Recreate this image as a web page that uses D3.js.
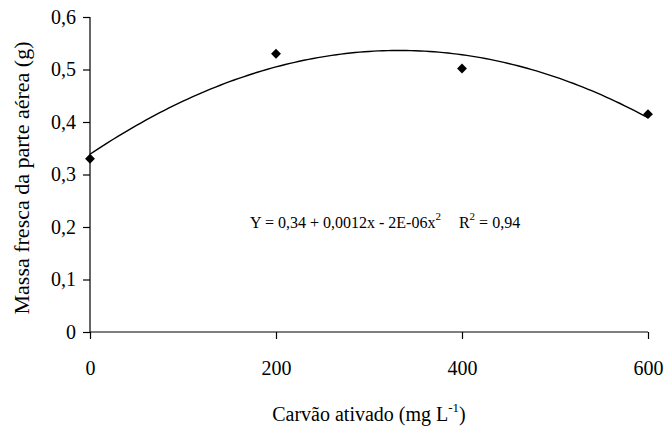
<!DOCTYPE html>
<html>
<head>
<meta charset="utf-8">
<script src="https://cdn.jsdelivr.net/npm/d3@7"></script>
<style>
  html, body { margin: 0; padding: 0; background: #fff; }
  svg { display: block; }
  svg text { font-family: "Liberation Serif", "Times New Roman", Times, "DejaVu Serif", serif; }
</style>
</head>
<body>
<svg id="chart" width="665" height="426"></svg>
<script>
// Activated charcoal dose (mg/L) and shoot fresh mass (g)
const doses = [0, 200, 400, 600];
const freshMass = [0.33, 0.53, 0.502, 0.415];
const xTicks = [0, 200, 400, 600];
const yTicks = [0, 0.1, 0.2, 0.3, 0.4, 0.5, 0.6];
// Quadratic regression coefficients: y = a + b*x + c*x^2
const coef = [0.3385, 0.00119, -0.00000179];

const serif = '"Liberation Serif", "Times New Roman", Times, "DejaVu Serif", serif';
const svg = d3.select("#chart");
const margin = { left: 90, right: 17, top: 17, bottom: 94 };
const W = 665, H = 426;

const x = d3.scaleLinear().domain([0, 600]).range([margin.left, W - margin.right]);
const y = d3.scaleLinear().domain([0, 0.6]).range([H - margin.bottom, margin.top]);
const fmt = d => d === 0 ? "0" : d3.format(".1f")(d).replace(".", ",");

// Y axis
const yAxis = svg.append("g")
  .attr("transform", `translate(${margin.left},0)`)
  .call(d3.axisLeft(y).tickValues(yTicks).tickSize(7).tickPadding(7).tickFormat(fmt));
// X axis
const xAxis = svg.append("g")
  .attr("transform", `translate(0,${y(0)})`)
  .call(d3.axisBottom(x).tickValues(xTicks).tickSize(7).tickPadding(22)
    .tickFormat(d3.format("d")));

[yAxis, xAxis].forEach(g => {
  g.attr("font-family", serif).attr("font-size", 20);
  g.select(".domain").attr("stroke", "#000").attr("stroke-width", 1.2);
  g.selectAll(".tick line").attr("stroke", "#000").attr("stroke-width", 1.2);
  g.selectAll(".tick text").attr("fill", "#000");
});
// plain domain lines without end caps
yAxis.select(".domain").attr("d", `M0,${y(0.6)}V${y(0)}`);
xAxis.select(".domain").attr("d", `M${x(0)},0H${x(600)}`);

// Regression curve
const curveX = d3.range(0, 600.5, 5);
const line = d3.line()
  .x(d => x(d))
  .y(d => y(coef[0] + coef[1] * d + coef[2] * d * d));
svg.append("path")
  .datum(curveX)
  .attr("d", line)
  .attr("fill", "none")
  .attr("stroke", "#000")
  .attr("stroke-width", 1.4);

// Observed points (diamonds)
svg.append("g").selectAll("path")
  .data(doses.map((d, i) => [d, freshMass[i]]))
  .join("path")
  .attr("transform", d => `translate(${x(d[0])},${y(d[1])}) rotate(45)`)
  .attr("d", "M-3.5,-3.5H3.5V3.5H-3.5Z")
  .attr("fill", "#000");

// Regression equation
const eq = svg.append("text")
  .attr("x", 250).attr("y", 228)
  .attr("font-family", serif)
  .attr("font-size", 16).attr("fill", "#000");
eq.append("tspan").text("Y = 0,34 + 0,0012x - 2E-06x");
eq.append("tspan").attr("dy", -8).attr("font-size", 11).text("2");
eq.append("tspan").attr("dy", 8).attr("dx", 18).text("R");
eq.append("tspan").attr("dy", -8).attr("font-size", 11).text("2");
eq.append("tspan").attr("dy", 8).text(" = 0,94");

// Axis titles
const xt = svg.append("text")
  .attr("x", (x(0) + x(600)) / 2).attr("y", 421)
  .attr("text-anchor", "middle")
  .attr("font-family", serif)
  .attr("font-size", 20).attr("fill", "#000");
xt.append("tspan").text("Carvão ativado (mg L");
xt.append("tspan").attr("dy", -9).attr("font-size", 13).text("-1");
xt.append("tspan").attr("dy", 9).text(")");

svg.append("text")
  .attr("transform", "translate(29,178) rotate(-90)")
  .attr("text-anchor", "middle")
  .attr("font-family", serif)
  .attr("font-size", 22).attr("fill", "#000")
  .text("Massa fresca da parte aérea (g)");
</script>
</body>
</html>
